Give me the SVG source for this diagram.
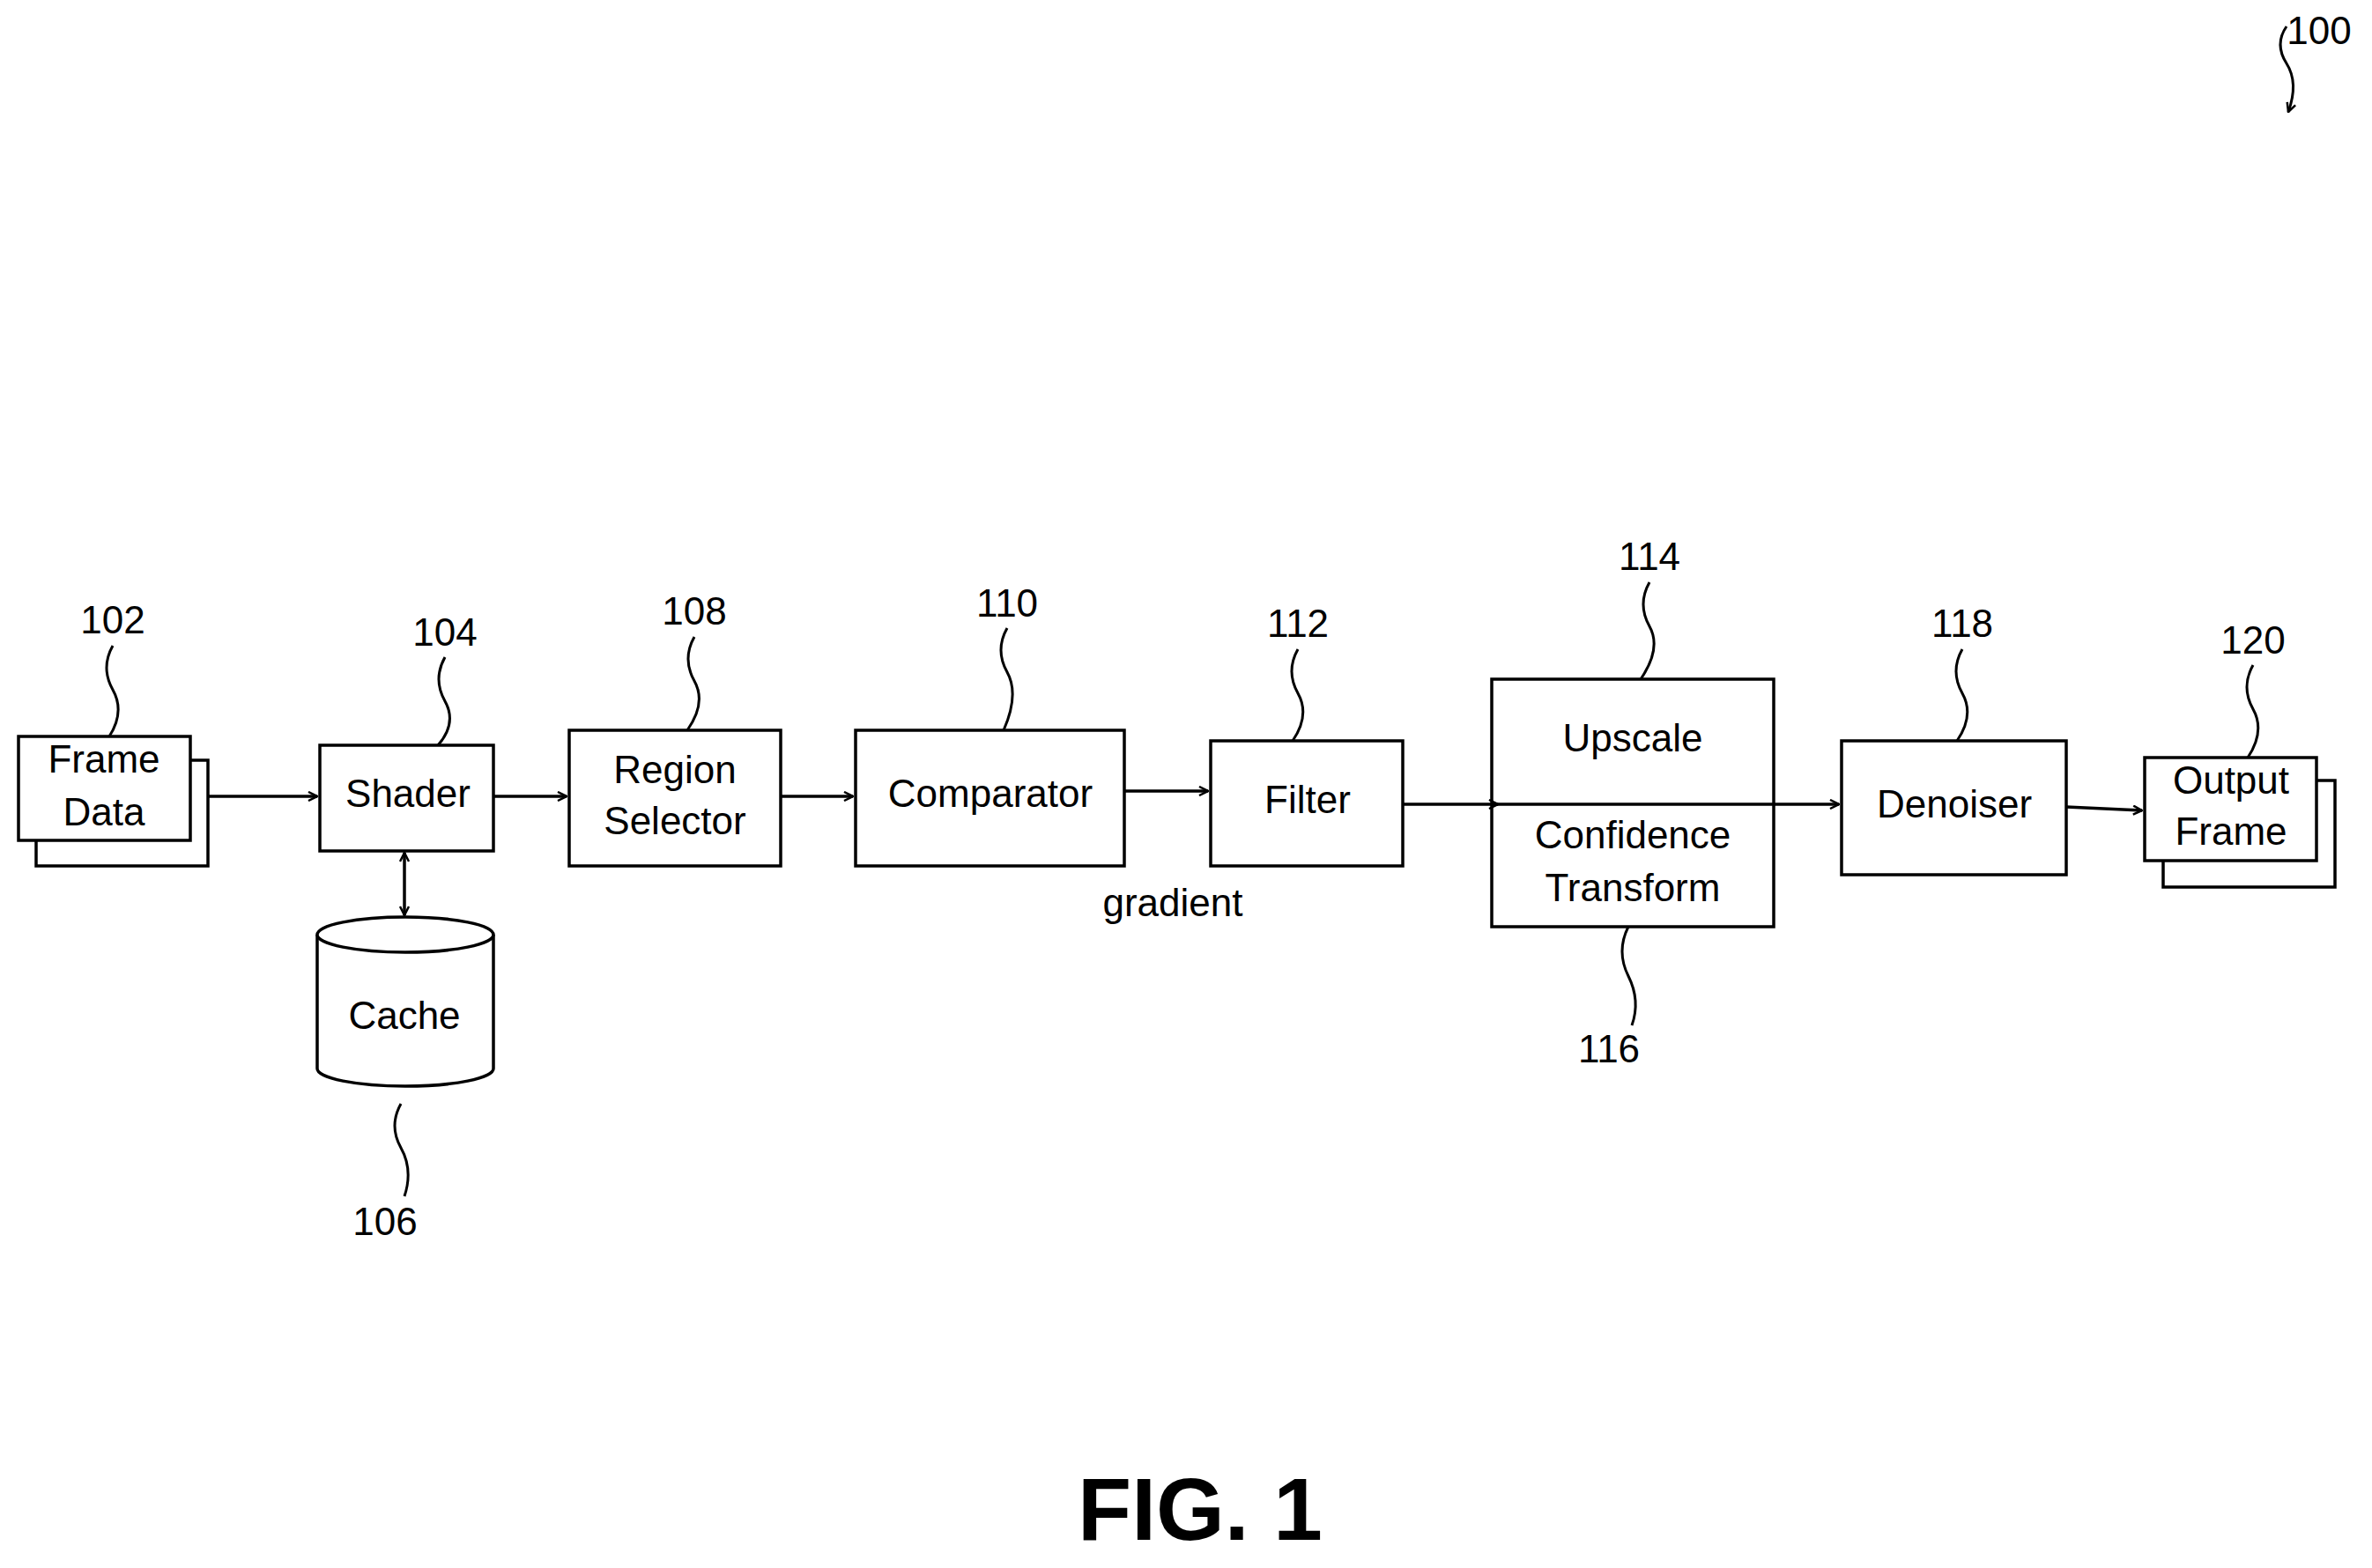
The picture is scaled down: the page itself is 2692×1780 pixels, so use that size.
<svg xmlns="http://www.w3.org/2000/svg" width="2692" height="1780" viewBox="0 0 2692 1780">
<style>
.b{fill:#fff;stroke:#000;stroke-width:3.5}
.t{font-family:"Liberation Sans",Arial,sans-serif;font-size:44px;text-anchor:middle;dominant-baseline:middle;fill:#000}
.c{fill:none;stroke:#000;stroke-width:3.5}
.s{fill:none;stroke:#000;stroke-width:3}
</style>
<defs>
<marker id="a" viewBox="0 0 12 12" refX="11" refY="6" markerWidth="12" markerHeight="12" markerUnits="userSpaceOnUse" orient="auto-start-reverse"><path d="M1 1 L11 6 L1 11" fill="none" stroke="#000" stroke-width="2.5"/></marker>
</defs>
<rect width="2692" height="1780" fill="#fff"/>
<g id="n102"><rect class="b" x="41" y="863" width="195" height="120"/><rect class="b" x="21" y="836" width="195" height="118"/><text class="t" x="118" y="865">Frame</text><text class="t" x="118" y="925">Data</text><text class="t" x="128" y="707">102</text><path class="s" d="M128 733 q-14 25 0 50 t-4 53"/></g>
<g id="n104"><rect class="b" x="363" y="846" width="197" height="120"/><text class="t" x="463" y="904">Shader</text><text class="t" x="505" y="721">104</text><path class="s" d="M505 746 q-14 25 0 50 t-8 50"/></g>
<g id="n106"><path class="b" d="M360 1061 L360 1213 A100 20 0 0 0 560 1213 L560 1061"/><ellipse class="b" cx="460" cy="1061" rx="100" ry="20"/><text class="t" x="459" y="1156">Cache</text><text class="t" x="437" y="1390">106</text><path class="s" d="M455 1253 q-14 25 0 50 t4 55"/></g>
<g id="n108"><rect class="b" x="646" y="829" width="240" height="154"/><text class="t" x="766" y="877">Region</text><text class="t" x="766" y="935">Selector</text><text class="t" x="788" y="697">108</text><path class="s" d="M788 723 q-14 25 0 50 t-8 56"/></g>
<g id="n110"><rect class="b" x="971" y="829" width="305" height="154"/><text class="t" x="1124" y="904">Comparator</text><text class="t" x="1143" y="688">110</text><path class="s" d="M1143 713 q-14 25 0 50 t-4 66"/></g>
<g id="n112"><rect class="b" x="1374" y="841" width="218" height="142"/><text class="t" x="1484" y="911">Filter</text><text class="t" x="1473" y="711">112</text><path class="s" d="M1473 737 q-14 25 0 50 t-6 54"/></g>
<g id="n114"><rect class="b" x="1693" y="771" width="320" height="281"/><text class="t" x="1853" y="841">Upscale</text><text class="t" x="1872" y="635">114</text><path class="s" d="M1872 661 q-14 25 0 50 t-10 60"/></g>
<g id="n116"><text class="t" x="1853" y="951">Confidence</text><text class="t" x="1853" y="1011">Transform</text><text class="t" x="1826" y="1194">116</text><path class="s" d="M1848 1052 q-14 28 0 56 t4 56"/></g>
<g id="n118"><rect class="b" x="2090" y="841" width="255" height="152"/><text class="t" x="2218" y="916">Denoiser</text><text class="t" x="2227" y="711">118</text><path class="s" d="M2227 737 q-14 25 0 50 t-6 54"/></g>
<g id="n120"><rect class="b" x="2455" y="886" width="195" height="121"/><rect class="b" x="2434" y="860" width="195" height="117"/><text class="t" x="2532" y="889">Output</text><text class="t" x="2532" y="947">Frame</text><text class="t" x="2557" y="730">120</text><path class="s" d="M2557 755 q-14 25 0 50 t-6 55"/></g>
<g id="n100"><text class="t" x="2632" y="38">100</text><path class="s" d="M2595 30 q-14 20 0 42 t2 55" marker-end="url(#a)"/></g>
<g id="connectors">
<line class="c" x1="236" y1="904" x2="360" y2="904" marker-end="url(#a)"/>
<line class="c" x1="459" y1="968" x2="459" y2="1039" marker-start="url(#a)" marker-end="url(#a)"/>
<line class="c" x1="560" y1="904" x2="643" y2="904" marker-end="url(#a)"/>
<line class="c" x1="886" y1="904" x2="968" y2="904" marker-end="url(#a)"/>
<line class="c" x1="1276" y1="898" x2="1371" y2="898" marker-end="url(#a)"/>
<line class="c" x1="1592" y1="913" x2="1700" y2="913" marker-end="url(#a)"/>
<line class="c" x1="1693" y1="913" x2="2087" y2="913" marker-end="url(#a)"/>
<line class="c" x1="2345" y1="916" x2="2431" y2="920" marker-end="url(#a)"/>
</g>
<text class="t" x="1331" y="1028">gradient</text>
<text class="t" x="1362" y="1722" style="font-size:100px;font-weight:bold">FIG. 1</text>
</svg>
